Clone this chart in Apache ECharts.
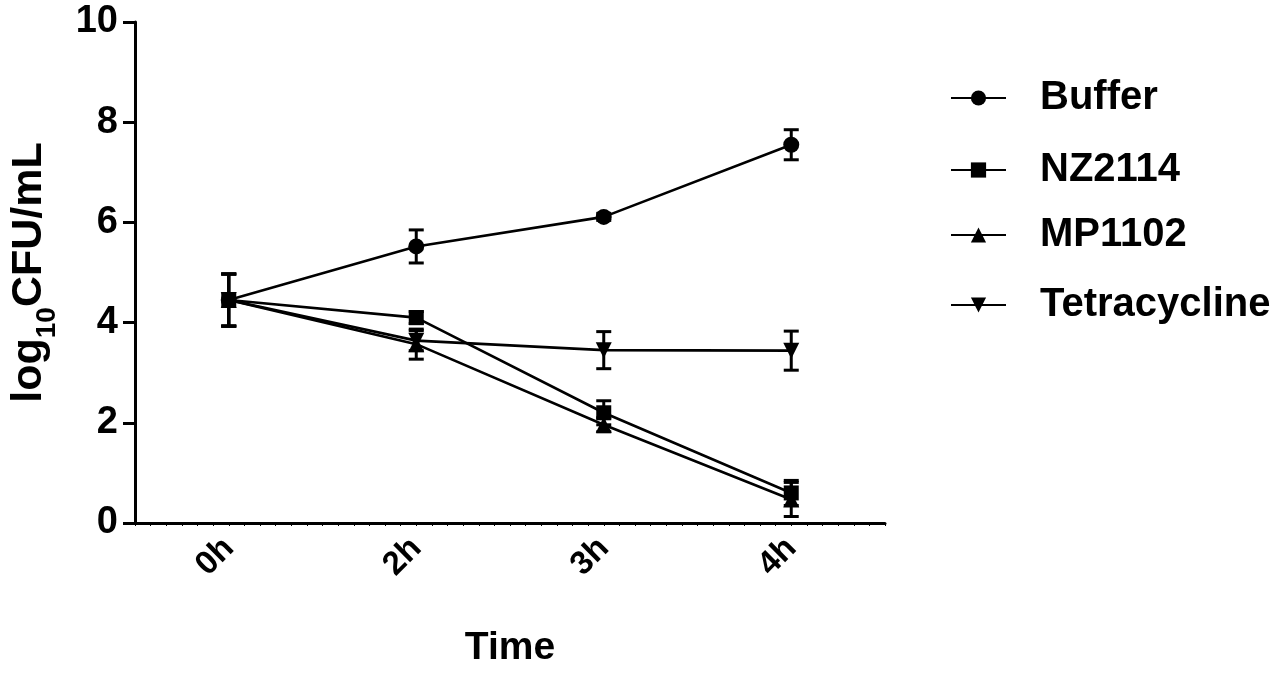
<!DOCTYPE html>
<html>
<head>
<meta charset="utf-8">
<script src="https://cdn.jsdelivr.net/npm/echarts@6/dist/echarts.min.js"></script>
<style>html,body{margin:0;padding:0;background:#fff}#c{width:1280px;height:673px}</style>
</head>
<body>
<div id="c"></div>
<script>
const categories = ['0h', '2h', '3h', '4h'];
const yTicks = [0, 2, 4, 6, 8, 10];
const buffer = [4.45, 5.52, 6.11, 7.55];
const bufferErr = [0.52, 0.33, 0.07, 0.3];
const nz2114 = [4.45, 4.1, 2.2, 0.6];
const nz2114Err = [0.52, 0.12, 0.24, 0.25];
const mp1102 = [4.45, 3.57, 1.96, 0.47];
const mp1102Err = [0.52, 0.3, 0.14, 0.34];
const tetracycline = [4.45, 3.64, 3.45, 3.44];
const tetracyclineErr = [0.52, 0.2, 0.37, 0.39];

const FONT = 'Liberation Sans, Arial, sans-serif';
const chart = echarts.init(document.getElementById('c'));

function errSeries(name, vals, errs) {
  return {
    type: 'custom',
    name: name + ' err',
    xAxisIndex: 0, yAxisIndex: 0,
    z: 3,
    silent: true,
    data: vals.map((v, i) => [i, v - errs[i], v + errs[i]]),
    renderItem: function (params, api) {
      const lo = api.coord([api.value(0), api.value(1)]);
      const hi = api.coord([api.value(0), api.value(2)]);
      const w = 7.5;
      const style = { stroke: '#000', lineWidth: 3 };
      return {
        type: 'group',
        children: [
          { type: 'line', shape: { x1: lo[0], y1: lo[1], x2: hi[0], y2: hi[1] }, style: style },
          { type: 'line', shape: { x1: lo[0] - w, y1: lo[1], x2: lo[0] + w, y2: lo[1] }, style: style },
          { type: 'line', shape: { x1: hi[0] - w, y1: hi[1], x2: hi[0] + w, y2: hi[1] }, style: style }
        ]
      };
    }
  };
}

function lineSeries(name, vals, symbol, size, rotate) {
  return {
    type: 'line',
    name: name,
    data: vals,
    symbol: symbol,
    symbolSize: size,
    symbolRotate: rotate || 0,
    showAllSymbol: true,
    z: 4,
    lineStyle: { color: '#000', width: 2.6 },
    itemStyle: { color: '#000', borderColor: '#000', borderWidth: 0 },
    emphasis: { disabled: true },
    animation: false
  };
}

function legend(name, top) {
  return {
    data: [name],
    left: 945,
    top: top,
    orient: 'vertical',
    itemWidth: 55,
    itemHeight: 19,
    itemGap: 0,
    selectedMode: false,
    textStyle: { fontFamily: FONT, fontWeight: 'bold', fontSize: 40, color: '#000', padding: [0, 0, 0, 29] }
  };
}

chart.setOption({
  animation: false,
  backgroundColor: '#fff',
  grid: { left: 125, right: 395, top: 22, bottom: 148, containLabel: false },
  legend: [
    legend('Buffer', 73),
    legend('NZ2114', 145),
    legend('MP1102', 210),
    legend('Tetracycline', 280)
  ],
  xAxis: [{
    type: 'category',
    data: categories,
    boundaryGap: true,
    name: 'Time',
    nameLocation: 'middle',
    nameGap: 106,
    nameTextStyle: { fontFamily: FONT, fontWeight: 'bold', fontSize: 39, color: '#000' },
    axisLine: { lineStyle: { color: '#000', width: 3 } },
    axisTick: { alignWithLabel: true, length: 12, lineStyle: { color: '#000', width: 3 } },
    axisLabel: { rotate: 45, margin: 20, fontFamily: FONT, fontWeight: 'bold', fontSize: 33, color: '#000' },
    splitLine: { show: false }
  }, {
    type: 'value',
    min: 0, max: 48, interval: 1,
    position: 'bottom',
    axisLine: { show: false },
    axisTick: { show: true, length: 3, lineStyle: { color: '#000', width: 1 } },
    axisLabel: { show: false },
    splitLine: { show: false }
  }],
  yAxis: {
    type: 'value',
    min: 0, max: 10, interval: 2,
    name: '{m|log}{s|10}{m|CFU/mL}',
    nameLocation: 'middle',
    nameRotate: 90,
    nameGap: 84,
    nameTextStyle: {
      rich: {
        m: { fontFamily: FONT, fontWeight: 'bold', fontSize: 43, color: '#000', verticalAlign: 'bottom' },
        s: { fontFamily: FONT, fontWeight: 'bold', fontSize: 28, color: '#000', verticalAlign: 'bottom', padding: [0, 0, -10, 0] }
      }
    },
    axisLine: { show: true, lineStyle: { color: '#000', width: 3 } },
    axisTick: { show: true, length: 12, lineStyle: { color: '#000', width: 3 } },
    axisLabel: {
      margin: 17, fontFamily: FONT, fontWeight: 'bold', fontSize: 38, color: '#000',
      formatter: v => yTicks.indexOf(v) >= 0 ? String(v) : ''
    },
    splitLine: { show: false }
  },
  series: [
    errSeries('Buffer', buffer, bufferErr),
    errSeries('NZ2114', nz2114, nz2114Err),
    errSeries('MP1102', mp1102, mp1102Err),
    errSeries('Tetracycline', tetracycline, tetracyclineErr),
    lineSeries('Buffer', buffer, 'circle', 16),
    lineSeries('NZ2114', nz2114, 'rect', 15),
    lineSeries('MP1102', mp1102, 'triangle', 16),
    lineSeries('Tetracycline', tetracycline, 'triangle', 16, 180)
  ]
});
</script>
</body>
</html>
